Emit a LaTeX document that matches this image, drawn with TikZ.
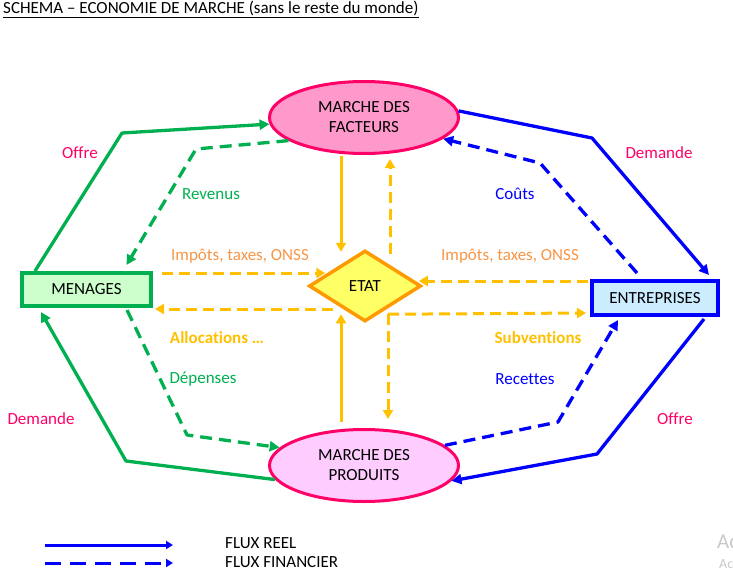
\documentclass[tikz,border=0pt]{standalone}
\usepackage{fontspec}
\setmainfont[Ligatures={TeX,NoCommon}]{Carlito}
\usetikzlibrary{shapes.geometric,arrows.meta,calc}

\definecolor{crimson}{HTML}{FF0066}
\definecolor{pinkfill}{HTML}{FF99CC}
\definecolor{lilacfill}{HTML}{FFCCFF}
\definecolor{greenc}{HTML}{00B050}
\definecolor{greenfill}{HTML}{CCFFCC}
\definecolor{bluec}{HTML}{0000FF}
\definecolor{bluefill}{HTML}{CCECFF}
\definecolor{goldc}{HTML}{FFC000}
\definecolor{orangec}{HTML}{F79646}
\definecolor{etatline}{HTML}{FF9900}
\definecolor{etatfill}{HTML}{FFFF66}
\definecolor{wmark}{HTML}{C8C8C8}

\tikzset{
  txt/.style={font=\fontsize{17}{20}\selectfont, inner sep=0pt},
  market/.style={ellipse, draw=crimson, line width=3pt, minimum width=189pt,
    minimum height=72pt, inner sep=0pt, align=center, txt},
  agent/.style={rectangle, line width=4pt, inner sep=0pt, txt},
  flow/.style={line width=3.3pt, line join=round, -{Triangle[length=10pt,width=10pt]}},
  flowdash/.style={flow, dash pattern=on 12pt off 7pt},
  govflow/.style={draw=goldc, line width=3pt, -{Triangle[length=9pt,width=10pt]}},
  govdash/.style={govflow, dash pattern=on 11pt off 6pt},
  legendflow/.style={draw=bluec, line width=3pt, -{Triangle[length=7pt,width=8pt]}},
}

\begin{document}
\begin{tikzpicture}[x=1pt,y=-1pt]
\useasboundingbox (0,0) rectangle (733,583);

% title
\node[txt, anchor=base west] (title) at (3,13.5)
  {\underline{SCHEMA – ECONOMIE DE MARCHE (sans le reste du monde)}};

% markets, state and agents
\node[market, fill=pinkfill] (fac) at (364,117.5) {MARCHE DES\\FACTEURS};
\node[market, fill=lilacfill] (prod) at (364,465.5) {MARCHE DES\\PRODUITS};
\node[diamond, draw=etatline, fill=etatfill, line width=3.5pt, minimum width=112pt,
  minimum height=71pt, inner sep=0pt, txt] (etat) at (365,286) {ETAT};
\node[agent, draw=greenc, fill=greenfill, minimum width=129pt, minimum height=33pt]
  (men) at (86.5,289.5) {MENAGES};
\node[agent, draw=bluec, fill=bluefill, minimum width=126pt, minimum height=34pt]
  (ent) at (655,298) {ENTREPRISES};

% bend points
\coordinate (offA) at (122,133);
\coordinate (revA) at (196,149);
\coordinate (demB) at (592,138);
\coordinate (couB) at (540,163);
\coordinate (demA) at (126,461);
\coordinate (depA) at (187,435);
\coordinate (offB) at (597,454);
\coordinate (recB) at (558,422);

% households <-> factor market
\draw[flow, draw=greenc] ($(men.north west)+(15,0)$) -- (offA) -- (fac.184);
\draw[flowdash, draw=greenc] (fac.197) -- (revA) -- ($(men.north)+(40,-6)$);
% factor market <-> firms
\draw[flow, draw=bluec] (fac.4) -- (demB) -- ($(ent.north east)+(-11,-4)$);
\draw[flowdash, draw=bluec] ($(ent.north)+(-18,-6)$) -- (couB) -- (fac.345);
% households <-> product market
\draw[flow, draw=greenc] (prod.189) -- (demA) -- ($(men.south west)+(21,4)$);
\draw[flowdash, draw=greenc] ($(men.south east)+(-26,2)$) -- (depA) -- (prod.168);
% product market <-> firms
\draw[flow, draw=bluec] ($(ent.south east)+(-16,2)$) -- (offB) -- (prod.350);
\draw[flowdash, draw=bluec] (prod.14) -- (recB) -- ($(ent.south)+(-37,3)$);

% state flows
\draw[govflow] ($(fac.south)+(-23,1)$) -- ($(etat.north)+(-24,3)$);
\draw[govdash] ($(etat.north)+(25,5)$) -- ($(fac.south)+(26,4)$);
\draw[govflow] ($(prod.north)+(-23,-6)$) -- ($(etat.south)+(-24,-9)$);
\draw[govdash] ($(etat.south)+(23,-9)$) -- ($(prod.north)+(24,-9)$);
\draw[govdash] ($(men.east)+(9,-16.5)$) -- ($(etat.west)+(18,-13)$);
\draw[govdash] ($(etat.west)+(26,23)$) -- ($(men.east)+(2,19.5)$);
\draw[govdash] ($(ent.west)+(-2,-17)$) -- ($(etat.east)+(-4,-5)$);
\draw[govdash] ($(etat.south)+(23,-9)$) -- ($(ent.west)+(-4,15)$);

% flow labels
\node[txt, text=crimson] (lOffreA) at (80,153) {Offre};
\node[txt, text=greenc] (lRevenus) at (211,194) {Revenus};
\node[txt, text=crimson] (lDemandeB) at (659,153) {Demande};
\node[txt, text=bluec] (lCouts) at (515,194) {Coûts};
\node[txt, text=orangec] (lImpA) at (240,256) {Impôts, taxes, ONSS};
\node[txt, text=orangec] (lImpB) at (510,256) {Impôts, taxes, ONSS};
\node[txt, text=goldc, font=\fontsize{17}{20}\selectfont\bfseries] (lAlloc) at (217,338) {Allocations \dots};
\node[txt, text=goldc, font=\fontsize{17}{20}\selectfont\bfseries] (lSubv) at (538,338) {Subventions};
\node[txt, text=greenc] (lDep) at (203,379) {Dépenses};
\node[txt, text=bluec] (lRec) at (525,379) {Recettes};
\node[txt, text=crimson] (lDemandeA) at (41,419) {Demande};
\node[txt, text=crimson] (lOffreB) at (675,419) {Offre};

% legend
\coordinate (lgA1) at (45,545);
\coordinate (lgA2) at (173,545);
\coordinate (lgB1) at (45,563);
\coordinate (lgB2) at (173,563);
\draw[legendflow] (lgA1) -- (lgA2);
\draw[legendflow, dash pattern=on 16pt off 9pt] (lgB1) -- (lgB2);
\node[txt, anchor=west] (lgReel) at (225,543) {FLUX REEL};
\node[txt, anchor=west] (lgFin) at (225,562) {FLUX FINANCIER};

% faint overlay text at the right edge
\node[txt, anchor=west, text=wmark, font=\fontsize{21}{24}\selectfont] (wmA) at (717,542) {Ac};
\node[txt, anchor=west, text=wmark, font=\fontsize{14}{16}\selectfont] (wmB) at (719,564) {Ac};
\end{tikzpicture}
\end{document}
